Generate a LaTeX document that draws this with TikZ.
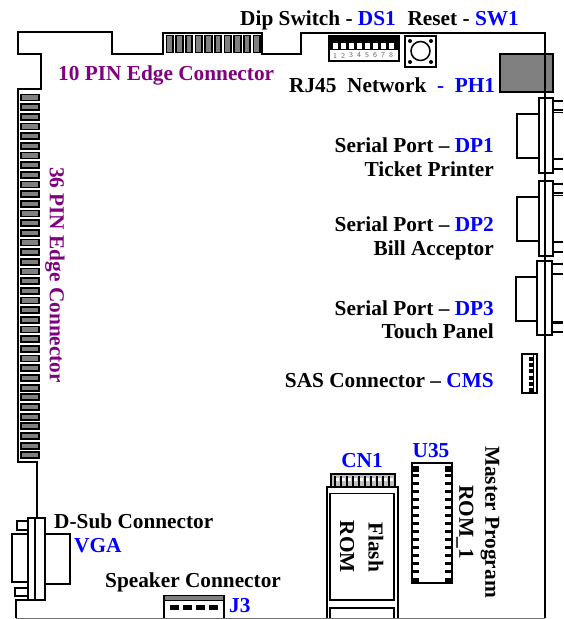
\documentclass[tikz,border=0pt]{standalone}
\usepackage{fontspec}
\setmainfont{Liberation Serif}
\definecolor{lab}{RGB}{128,0,128}
\definecolor{bl}{RGB}{0,0,255}
\definecolor{fing}{RGB}{128,128,128}
\newcommand{\B}[1]{\textcolor{bl}{#1}}
\tikzset{
 txt/.style={font=\fontsize{21.3}{23}\bfseries\selectfont,inner sep=0pt,text=black,anchor=base west},
 rot/.style={font=\fontsize{21.3}{23}\bfseries\selectfont,inner sep=0pt,text=black,rotate=-90,anchor=center},
 ln/.style={draw=black,line width=1.7pt,line join=miter},
 finger/.style={draw=black,line width=1.8pt,fill=fing},
}
\begin{document}
\begin{tikzpicture}[x=1pt,y=-1pt]
\useasboundingbox (0,0) rectangle (563,619);
% board
\draw[ln] (545,618) -- (545,33) -- (301,33) -- (301,54) -- (262,54) -- (262,33) -- (163,33) -- (163,54) -- (112,54) -- (112,32) -- (18,32) -- (18,54) -- (41,54) -- (41,89) -- (18,89) -- (18,462) -- (37,462) -- (37,518);
\draw[line width=1pt,draw=black!55] (16,618) -- (545,618);
\draw[ln] (16,618) -- (16,600) -- (45,600);
% top fingers
\foreach \i in {0,...,9} \draw[finger] ({166.5+\i*9.67},35.5) rectangle ++(6.5,17);
% left fingers
\foreach \i in {0,...,37} \draw[finger] (21,{94.5+\i*9.67}) rectangle ++(18,6);
% DIP
\draw[ln,line width=1.4pt] (329,36) rectangle (399,61);
\fill[black] (329,36) rectangle (399,50);
\foreach \i in {0,...,7} {
 \fill[white] ({332.5+\i*8},38) rectangle ++(5,11);
 \fill[black] ({332.5+\i*8},38) rectangle ++(5,4.5);
 \node[font=\fontsize{7.5}{8}\sffamily\selectfont,text=black!60,inner sep=0pt] (dn\i) at ({335+\i*8},55.5) {\the\numexpr\i+1\relax};
}
% reset
\draw[ln,line width=1.8pt] (405,36) rectangle (436,67);
\draw[black,line width=1.5pt] (420.5,51) circle (9.5);
\foreach \a/\b in {410/41,431/41,410/62,431/62} \fill (\a,\b) circle (2);
% RJ45
\draw[ln,fill=fing] (500,54) rectangle (553,92);
\draw[ln] (545,54) -- (545,92);
% DP1, DP2
\foreach \t in {98,181} {
 \begin{scope}[shift={(0,\t)}]
 \draw[ln] (539,16) -- (517,16) -- (517,60) -- (539,60);
 \draw[ln] (539,0) rectangle (553,75);
 \draw[ln] (553,3) -- (563,3) (553,12) -- (563,12);
 \draw[line width=1pt] (553,14) -- (563,14);
 \draw[ln] (563,61) -- (553,61) (553,71) -- (563,71);
 \end{scope}
}
% DP3
\begin{scope}[shift={(0,261)}]
 \draw[ln] (537,16) -- (516,16) -- (516,60) -- (537,60);
 \draw[ln] (537,0) rectangle (552,74);
 \draw[ln] (552,3) -- (563,3) (552,13) -- (563,13);
 \draw[line width=1pt] (552,60) -- (563,60);
 \draw[ln] (563,62) -- (552,62) (552,71) -- (563,71);
\end{scope}
\draw[ln] (545,92) -- (545,618);
% CMS
\draw[ln,line width=1.4pt] (522,354) rectangle (537,393);
\draw[line width=.8pt] (533,354) -- (533,393);
\foreach \i in {0,...,5} \fill (529,{357+\i*6.2}) rectangle ++(4,4);
% D-sub
\draw[ln] (28,534) -- (12,534) -- (12,582) -- (28,582);
\draw[ln] (28,518) rectangle (45,600);
\draw[ln] (35,518) -- (35,600);
\draw[ln] (45,534) -- (70,534) -- (70,584) -- (45,584);
\draw[ln] (28,521) -- (17,521) -- (17,530) -- (28,530);
\draw[ln] (28,588) -- (15,588) -- (15,596) -- (28,596);
% J3
\draw[ln,fill=white] (164,618) -- (164,595.5) -- (224,595.5) -- (224,618);
\fill[fing] (165,596) rectangle (223,600);
\draw[line width=.8pt] (164,600.5) -- (224,600.5);
\foreach \i in {0,...,3} \fill ({170+\i*13},605) rectangle ++(9,5);
% CN1
\fill[fing!50] (331,474) rectangle (395,487);
\draw[line width=1.2pt] (331,474) rectangle (395,487);
\foreach \i in {0,...,9} {\draw[line width=1.2pt] ({335+\i*6},476) -- ++(0,11); \fill[white] ({336+\i*6},478) rectangle ++(3,3);}
\draw[ln] (327,618) -- (327,487) -- (398,487) -- (398,618);
\draw[ln] (330,493.5) rectangle (394,600);
\draw[ln] (330,618) -- (330,608) -- (394,608) -- (394,618);
% U35
\draw[ln] (412,463) rectangle (452,583);
\foreach \i in {0,...,14} {
 \fill (412,{466+\i*8.03}) rectangle ++(7,{\i==0||\i==14?6:3});
 \fill (445,{466+\i*8.03}) rectangle ++(7,{\i==0||\i==14?6:3});
}
% text
\node[txt] (t1) at (240,25) {Dip Switch - \B{DS1}};
\node[txt,anchor=base east] (t2) at (519,25) {Reset - \B{SW1}};
\node[txt,text=lab] (t3) at (58,80) {10 PIN Edge Connector};
\node[txt] (t4) at (289,92) {RJ45\ \ Network\ \ \B{- \ PH1}};
\node[txt,anchor=base east] (s1) at (494,152) {Serial Port – \B{DP1}};
\node[txt,anchor=base east] (s1b) at (494,176) {Ticket Printer};
\node[txt,anchor=base east] (s2) at (494,231) {Serial Port – \B{DP2}};
\node[txt,anchor=base east] (s2b) at (494,255) {Bill Acceptor};
\node[txt,anchor=base east] (s3) at (494,315) {Serial Port – \B{DP3}};
\node[txt,anchor=base east] (s3b) at (494,338) {Touch Panel};
\node[txt,anchor=base east] (c) at (494,387) {SAS Connector – \B{CMS}};
\node[rot,text=lab] (e36) at (55,275) {36 PIN Edge Connector};
\node[txt] (d) at (54,528) {D-Sub Connector};
\node[txt,text=bl] (v) at (74,552) {VGA};
\node[txt] (sp) at (105,587) {Speaker Connector};
\node[txt,text=bl] (j) at (229,612) {J3};
\node[txt,text=bl,anchor=base] (cn) at (362,467) {CN1};
\node[txt,text=bl,anchor=base] (u) at (431,457) {U35};
\node[rot] (f1) at (376,547) {Flash};
\node[rot] (f2) at (347,547) {ROM};
\node[rot] (m1) at (490,522) {Master Program};
\node[rot] (m2) at (465,522) {ROM\_1};
\end{tikzpicture}
\end{document}
